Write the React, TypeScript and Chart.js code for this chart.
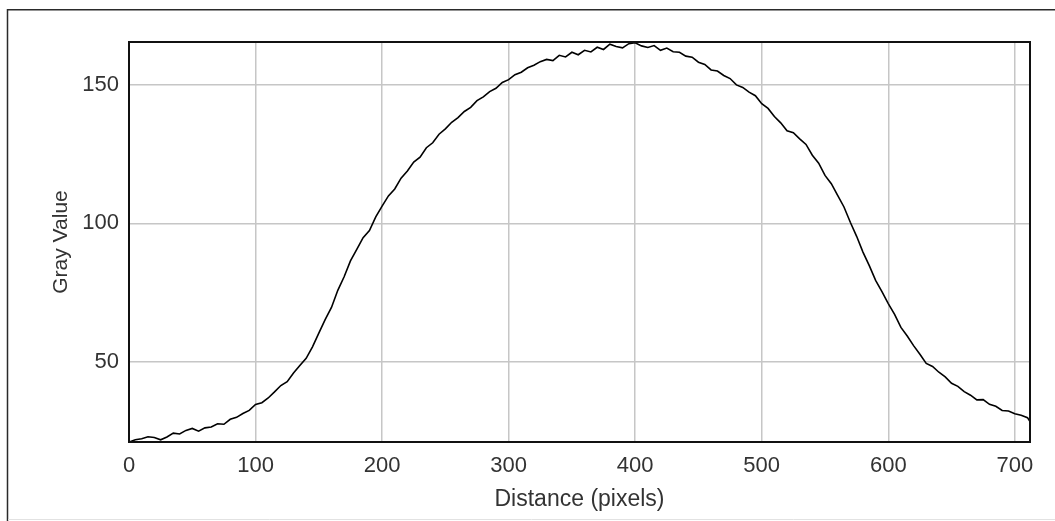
import React, { useEffect, useRef } from "react";
import { Chart, registerables } from "chart.js";

Chart.register(...registerables);

const distances: number[] = [
  0, 5, 10, 15, 20, 25, 30, 35, 40, 45, 50, 55, 60, 65, 70, 75, 80, 85, 90, 95,
  100, 105, 110, 115, 120, 125, 130, 135, 140, 145, 150, 155, 160, 165, 170, 175, 180, 185, 190, 195,
  200, 205, 210, 215, 220, 225, 230, 235, 240, 245, 250, 255, 260, 265, 270, 275, 280, 285, 290, 295,
  300, 305, 310, 315, 320, 325, 330, 335, 340, 345, 350, 355, 360, 365, 370, 375, 380, 385, 390, 395,
  400, 405, 410, 415, 420, 425, 430, 435, 440, 445, 450, 455, 460, 465, 470, 475, 480, 485, 490, 495,
  500, 505, 510, 515, 520, 525, 530, 535, 540, 545, 550, 555, 560, 565, 570, 575, 580, 585, 590, 595,
  600, 605, 610, 615, 620, 625, 630, 635, 640, 645, 650, 655, 660, 665, 670, 675, 680, 685, 690, 695,
  700, 705, 710, 712,
];

const grayValues: number[] = [
  21.0, 21.8, 22.2, 22.9, 22.6, 21.8, 22.8, 24.2, 23.9, 25.2, 25.9, 24.9, 26.1, 26.4, 27.6, 27.4, 29.2, 29.9, 31.3, 32.4,
  34.6, 35.2, 36.9, 39.1, 41.4, 42.8, 45.9, 48.6, 51.2, 55.4, 60.3, 65.2, 69.6, 75.8, 80.7, 86.4, 90.6, 94.8, 97.4, 102.3,
  106.2, 109.9, 112.4, 116.3, 118.9, 122.1, 123.9, 127.3, 129.1, 132.2, 134.1, 136.5, 138.2, 140.4, 141.9, 144.3, 145.7, 147.6, 148.8, 150.9,
  151.9, 153.7, 154.6, 156.2, 157.1, 158.4, 159.2, 158.8, 160.7, 160.1, 161.8, 160.9, 162.5, 161.9, 163.6, 162.8, 164.7, 163.9, 163.4, 164.9,
  165.2, 164.1, 163.5, 164.2, 162.5, 163.3, 162.0, 161.8, 160.4, 160.0, 158.2, 157.4, 155.4, 155.0, 153.4, 152.3, 150.0, 149.1, 147.4, 146.1,
  143.2, 141.5, 138.6, 136.3, 133.4, 132.7, 130.5, 128.5, 124.6, 121.7, 117.3, 114.3, 110.1, 105.9, 100.4, 95.3, 89.6, 84.7, 79.4, 75.3,
  71.0, 67.1, 62.4, 59.3, 55.8, 52.7, 49.4, 48.3, 46.2, 44.5, 42.2, 41.1, 39.2, 37.9, 36.2, 36.3, 34.6, 33.9, 32.4, 32.2,
  31.2, 30.7, 29.8, 28.4,
];

const xTitle = "Distance (pixels)";
const yTitle = "Gray Value";
const xMin = 0;
const xMax = 712;
const yMin = 21;
const yMax = 165.5;

const framePlugin = {
  id: "frame",
  afterDraw(chart: any) {
    const { ctx, chartArea } = chart;
    ctx.save();
    ctx.strokeStyle = "#111";
    ctx.lineWidth = 2;
    ctx.strokeRect(chartArea.left, chartArea.top, chartArea.right - chartArea.left, chartArea.bottom - chartArea.top);
    ctx.strokeStyle = "#2a2a2a";
    ctx.lineWidth = 1.5;
    ctx.beginPath();
    ctx.moveTo(7.5, 521);
    ctx.lineTo(7.5, 9.75);
    ctx.lineTo(1055, 9.75);
    ctx.stroke();
    ctx.strokeStyle = "#e2e2e2";
    ctx.lineWidth = 1;
    ctx.beginPath();
    ctx.moveTo(8, 519.5);
    ctx.lineTo(1055, 519.5);
    ctx.stroke();
    ctx.restore();
  },
};

export default function App() {
  const canvasRef = useRef<HTMLCanvasElement | null>(null);

  useEffect(() => {
    if (!canvasRef.current) return;
    const points = distances.map((d, i) => ({ x: d, y: grayValues[i] }));
    const chart = new Chart(canvasRef.current, {
      type: "line",
      data: {
        datasets: [
          {
            data: points,
            borderColor: "#000",
            borderWidth: 1.6,
            pointRadius: 0,
            tension: 0,
            fill: false,
          },
        ],
      },
      options: {
        responsive: false,
        animation: false,
        layout: { padding: { left: 0, top: 42, right: 25, bottom: 0 } },
        plugins: { legend: { display: false }, tooltip: { enabled: false } },
        scales: {
          x: {
            type: "linear",
            min: xMin,
            max: xMax,
            afterFit: (scale: any) => {
              scale.height = 79;
            },
            ticks: {
              stepSize: 100,
              includeBounds: false,
              padding: 11,
              color: "#333",
              font: { family: "'Liberation Sans', Arial, sans-serif", size: 22 },
              maxRotation: 0,
            },
            grid: { color: "#c6c6c6", lineWidth: 1.5, drawTicks: false },
            border: { display: false },
            title: {
              display: true,
              text: xTitle,
              color: "#333",
              font: { family: "'Liberation Sans', Arial, sans-serif", size: 23 },
              padding: { top: 0, bottom: 8 },
            },
          },
          y: {
            type: "linear",
            min: yMin,
            max: yMax,
            afterFit: (scale: any) => {
              scale.width = 129;
            },
            ticks: {
              stepSize: 50,
              includeBounds: false,
              padding: 10,
              color: "#333",
              font: { family: "'Liberation Sans', Arial, sans-serif", size: 22 },
            },
            grid: { color: "#c6c6c6", lineWidth: 1.5, drawTicks: false },
            border: { display: false },
            title: {
              display: true,
              text: yTitle,
              color: "#333",
              font: { family: "'Liberation Sans', Arial, sans-serif", size: 21 },
              padding: { top: 49, bottom: 0 },
            },
          },
        },
      },
      plugins: [framePlugin],
    });
    return () => chart.destroy();
  }, []);

  return (
    <div style={{ position: "absolute", left: 0, top: 0, width: 1055, height: 521, background: "#fff" }}>
      <canvas ref={canvasRef} width={1055} height={521} style={{ display: "block" }} />
    </div>
  );
}
